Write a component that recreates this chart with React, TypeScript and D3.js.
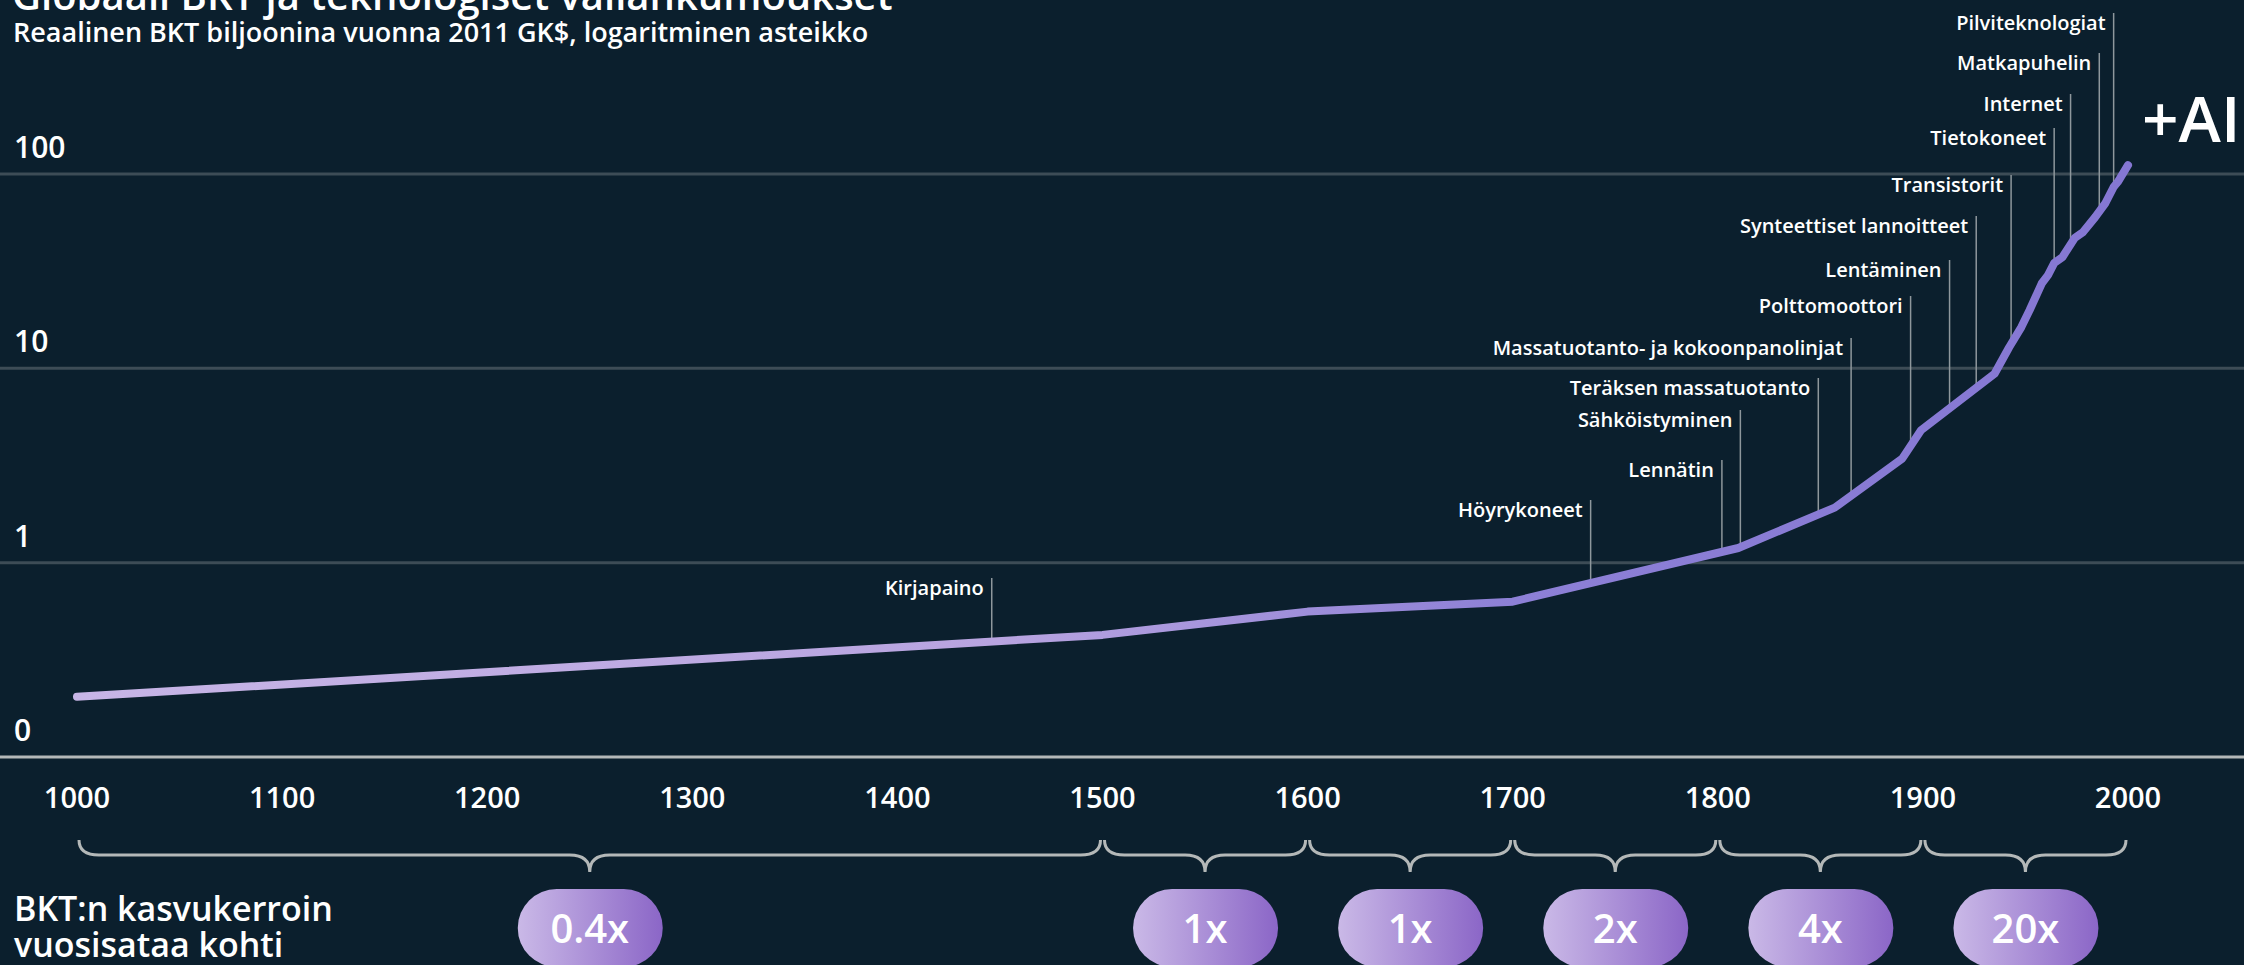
import { scaleLinear, scaleLog, line } from "d3";

// Global GDP (trillions, 2011 GK$)
const years = [
  1000, 1500, 1600, 1700, 1810, 1857, 1890, 1899, 1935, 1942, 1948, 1952,
  1958, 1961, 1964, 1968, 1974, 1978, 1984, 1989, 1993, 1995, 2000,
];
const gdp = [
  0.204, 0.425, 0.56, 0.63, 1.19, 1.92, 3.44, 4.79, 9.4, 12.8, 16.3, 19.9,
  27.4, 30.2, 34.8, 37.3, 46.8, 50.2, 60.0, 70.9, 85.7, 90.9, 111,
];

// Technology milestones
const milestoneNames = [
  "Kirjapaino",
  "Höyrykoneet",
  "Lennätin",
  "Sähköistyminen",
  "Teräksen massatuotanto",
  "Massatuotanto- ja kokoonpanolinjat",
  "Polttomoottori",
  "Lentäminen",
  "Synteettiset lannoitteet",
  "Transistorit",
  "Tietokoneet",
  "Internet",
  "Matkapuhelin",
  "Pilviteknologiat",
];
const milestoneYears = [
  1446, 1738, 1802, 1811, 1849, 1865, 1894, 1913, 1926, 1943, 1964, 1972,
  1986, 1993,
];

// Axis ticks
const xTicks = [1000, 1100, 1200, 1300, 1400, 1500, 1600, 1700, 1800, 1900, 2000];
const yTicks = [0.1, 1, 10, 100];
const yTickLabels = ["0", "1", "10", "100"];

// Growth factor per century
const periodBounds = [1000, 1500, 1600, 1700, 1800, 1900, 2000];
const growthLabels = ["0.4x", "1x", "1x", "2x", "4x", "20x"];

// label baselines (layout only)
const labelBaselines = [595, 517, 477, 427, 395, 355, 313, 277, 233, 192, 145, 111, 70, 30];

const W = 2244;
const H = 965;
const FONT = "'Open Sans', 'Noto Sans', sans-serif";
const BG = "#0b1f2d";

function gdpAt(year: number) {
  for (let i = 0; i < years.length - 1; i++) {
    if (year >= years[i] && year <= years[i + 1]) {
      const t = (year - years[i]) / (years[i + 1] - years[i]);
      const a = Math.log10(gdp[i]);
      const b = Math.log10(gdp[i + 1]);
      return Math.pow(10, a + (b - a) * t);
    }
  }
  return gdp[gdp.length - 1];
}

export default function App() {
  const x = scaleLinear().domain([1000, 2000]).range([77, 2128]);
  const y = scaleLog().domain([0.1, 100]).range([757, 174]);

  const path = line<number>()
    .x((_, i) => x(years[i]))
    .y((d) => y(d))(gdp);

  const braceTop = 840;
  const braceMid = 855;
  const braceTip = 872;
  const r = 20;

  return (
    <div>
      <style>{`body{margin:0;background:${BG};}`}</style>
      <svg width={W} height={H} style={{ display: "block", fontFamily: FONT }}>
        <defs>
          <linearGradient id="lineGrad" gradientUnits="userSpaceOnUse" x1={x(1000)} x2={x(2000)} y1={0} y2={0}>
            <stop offset="0" stopColor="#c7b5e6" />
            <stop offset="0.45" stopColor="#b8a4e0" />
            <stop offset="0.7" stopColor="#8d80d6" />
            <stop offset="1" stopColor="#8577d3" />
          </linearGradient>
          <linearGradient id="pillGrad" x1="0" x2="1" y1="0" y2="0">
            <stop offset="0" stopColor="#cab9e7" />
            <stop offset="1" stopColor="#8b66c7" />
          </linearGradient>
        </defs>
        <rect width={W} height={H} fill={BG} />

        {/* Title */}
        <text x={12} y={10} fill="#fff" fontSize={40} fontWeight={600}>
          Globaali BKT ja teknologiset vallankumoukset
        </text>
        <text x={13} y={42} fill="#fff" fontSize={27} fontWeight={600}>
          Reaalinen BKT biljoonina vuonna 2011 GK$, logaritminen asteikko
        </text>

        {/* Grid lines */}
        {yTicks.map((t, i) => (
          <g key={`grid-${t}`}>
            <line
              x1={0}
              x2={W}
              y1={y(t)}
              y2={y(t)}
              stroke={i === 0 ? "#b4b8b8" : "#3d4c56"}
              strokeWidth={3}
            />
            <text x={14} y={y(t) - 16} fill="#fff" fontSize={30} fontWeight={600}>
              {yTickLabels[i]}
            </text>
          </g>
        ))}

        {/* Milestone leaders */}
        {milestoneNames.map((name, i) => {
          const mx = x(milestoneYears[i]);
          const base = labelBaselines[i];
          return (
            <g key={`ms-${name}`}>
              <line
                x1={mx}
                x2={mx}
                y1={base - 17}
                y2={y(gdpAt(milestoneYears[i]))}
                stroke="#8e979c"
                strokeWidth={1.5}
              />
              <text x={mx - 8} y={base} textAnchor="end" fill="#fff" fontSize={20} fontWeight={600}>
                {name}
              </text>
            </g>
          );
        })}

        {/* GDP line */}
        <path
          d={path ?? ""}
          fill="none"
          stroke="url(#lineGrad)"
          strokeWidth={8}
          strokeLinecap="round"
          strokeLinejoin="round"
        />

        <text x={2142} y={142} fill="#fff" fontSize={64} fontWeight={600}>
          +AI
        </text>

        {/* X axis labels */}
        {xTicks.map((t) => (
          <text key={`x-${t}`} x={x(t)} y={808} textAnchor="middle" fill="#fff" fontSize={29} fontWeight={600}>
            {t}
          </text>
        ))}

        {/* Braces + growth pills */}
        {growthLabels.map((label, i) => {
          const x0 = x(periodBounds[i]) + 2;
          const x1 = x(periodBounds[i + 1]) - 2;
          const xm = (x0 + x1) / 2;
          const d = `M${x0},${braceTop} Q${x0},${braceMid} ${x0 + r},${braceMid} L${xm - r},${braceMid} Q${xm},${braceMid} ${xm},${braceTip} Q${xm},${braceMid} ${xm + r},${braceMid} L${x1 - r},${braceMid} Q${x1},${braceMid} ${x1},${braceTop}`;
          return (
            <g key={`period-${i}`}>
              <path d={d} fill="none" stroke="#b4b8b8" strokeWidth={3} />
              <rect x={xm - 72} y={889} width={145} height={78} rx={39} ry={39} fill="url(#pillGrad)" />
              <text x={xm} y={943} textAnchor="middle" fill="#fff" fontSize={40} fontWeight={600}>
                {label}
              </text>
            </g>
          );
        })}

        <text x={14} y={921} fill="#fff" fontSize={34} fontWeight={600}>
          BKT:n kasvukerroin
        </text>
        <text x={14} y={957} fill="#fff" fontSize={34} fontWeight={600}>
          vuosisataa kohti
        </text>
      </svg>
    </div>
  );
}
